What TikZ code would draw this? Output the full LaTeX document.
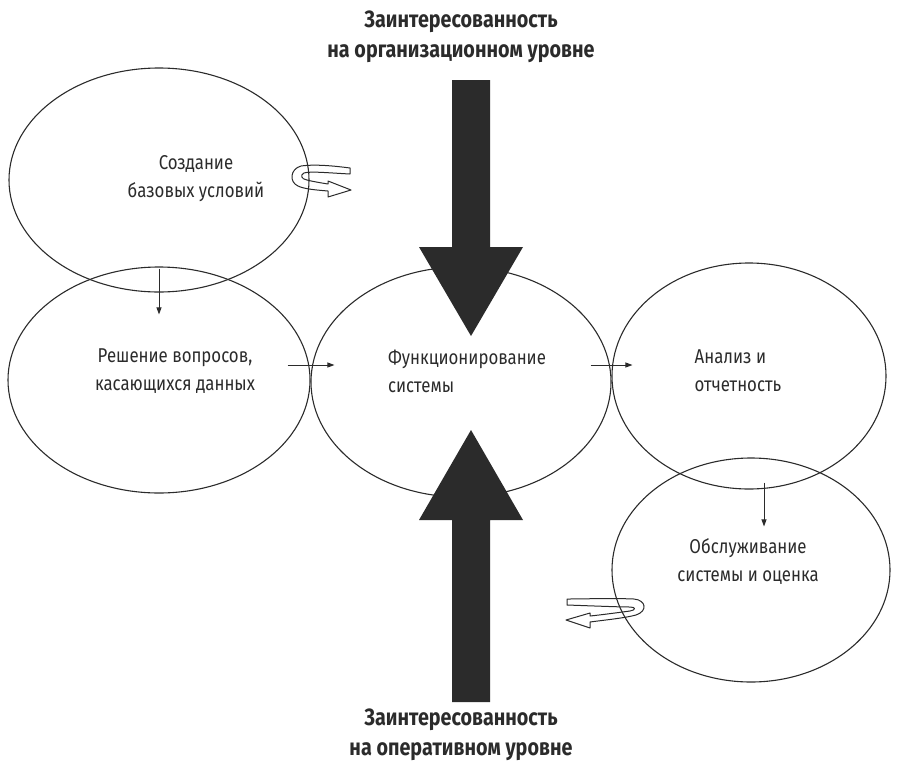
\documentclass[tikz,border=0pt]{standalone}
\usepackage{fontspec}
\setmainfont{Fira Sans}[FakeStretch=0.84]
\usepackage{xcolor}
\usetikzlibrary{shapes.geometric,arrows.meta}
\definecolor{ink}{HTML}{2B2B2B}

\begin{document}
\begin{tikzpicture}[x=1pt,y=-1pt,
            oval/.style={draw=ink, line width=1.1pt, ellipse, inner sep=0pt},
            ovaltext/.style={text=ink, font=\fontsize{20}{28}\selectfont, align=center},
            headtext/.style={text=ink, font=\fontsize{23.5}{30}\selectfont\bfseries, align=center},
            link/.style={draw=ink, line width=0.9pt, -{Triangle[length=7pt,width=5pt]}},
            curl/.style={draw=ink, line width=1pt, line join=round},
            bigarrow/.style={fill=ink}]
            \useasboundingbox (0,0) rectangle (904,766);
            \node [oval, minimum width=300pt, minimum height=224pt] (e1) at (159,180) {};
            \node [oval, minimum width=302pt, minimum height=226pt] (e2) at (159,380) {};
            \node [oval, minimum width=300pt, minimum height=230pt] (e3) at (461,382) {};
            \node [oval, minimum width=274pt, minimum height=226pt] (e4) at (749,376) {};
            \node [oval, minimum width=278pt, minimum height=224pt] (e5) at (751,570) {};
            \node [ovaltext] (t1) at (196,179) {Создание\\базовых условий};
            \node [ovaltext] (t2) at (175,371) {Решение вопросов,\\касающихся данных};
            \node [ovaltext, align=left] (t3) at (467,371) {Функционирование\\системы};
            \node [ovaltext, align=left] (t4) at (738,371) {Анализ и\\отчетность};
            \node [ovaltext] (t5) at (748,561) {Обслуживание\\системы и оценка};
            \node [headtext] (top) at (461,37) {Заинтересованность\\на организационном уровне};
            \node [headtext] (bottom) at (461,735) {Заинтересованность\\на оперативном уровне};
            \draw [link] ([shift={(0,-24)}]e1.south) -- ([shift={(0,48)}]e2.north);
            \draw [link] ([shift={(-23,-15)}]e2.east) -- ([shift={(24,-17)}]e3.west);
            \draw [link] ([shift={(-21,-17)}]e3.east) -- ([shift={(21,-11)}]e4.west);
            \draw [link] ([shift={(15,-7)}]e4.south) -- ([shift={(13,69)}]e5.north);
            \fill [bigarrow] (452,80) -- (490,80) -- (490,247) -- (523,247) -- (471,336) -- (419,247) -- (452,247) -- cycle;
            \fill [bigarrow] (452,702) -- (490,702) -- (490,520) -- (523,520) -- (471,430) -- (419,520) -- (452,520) -- cycle;
            \draw [curl] (350,168) -- (350,174) .. controls (330,173) and (310,171) .. (304,173) .. controls (300,175) and (301,179) .. (307,180) .. controls (315,182) and (322,183) .. (328,184) -- (328,181) -- (351,190) -- (328,197) -- (328,191) .. controls (316,190) and (304,189) .. (298,186) .. controls (289,182) and (290,169) .. (301,166) .. controls (315,164) and (335,166) .. cycle;
            \draw [curl] (567,599) -- (567,605) .. controls (595,606) and (620,607) .. (630,607) .. controls (636,607) and (636,610) .. (630,611) .. controls (615,613) and (600,615) .. (590,616) -- (590,613) -- (566,620) -- (590,628) -- (590,622) .. controls (605,620) and (625,618) .. (636,615) .. controls (648,611) and (646,600) .. (634,599) .. controls (610,598) and (585,599) .. cycle;
        \end{tikzpicture}
\end{document}
